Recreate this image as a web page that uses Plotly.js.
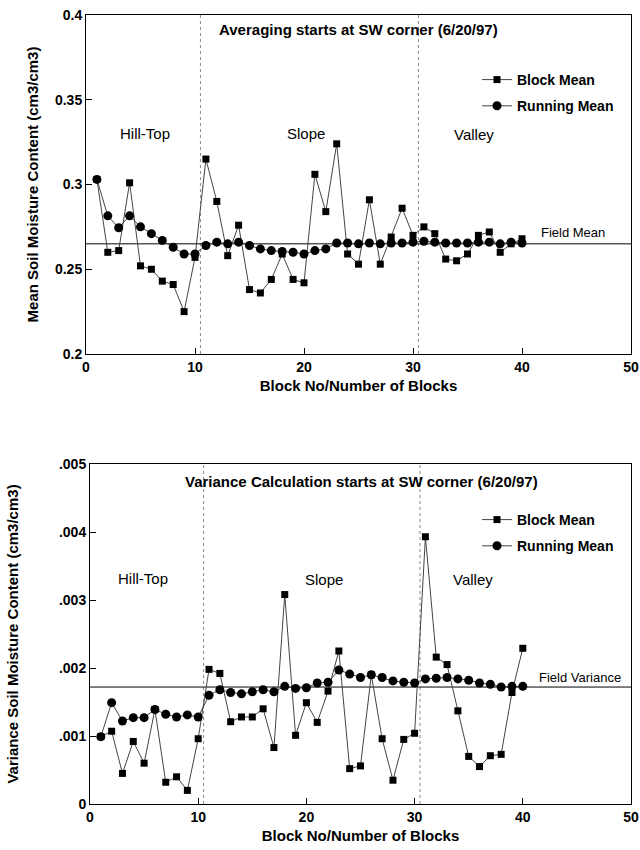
<!DOCTYPE html>
<html><head><meta charset="utf-8">
<script src="https://cdn.plot.ly/plotly-3.0.1.min.js"></script>
<style>html,body{margin:0;padding:0;background:#fff}</style>
</head><body><div id="chart" style="width:640px;height:850px"></div>
<script>
const blocks = [1,2,3,4,5,6,7,8,9,10,11,12,13,14,15,16,17,18,19,20,21,22,23,24,25,26,27,28,29,30,31,32,33,34,35,36,37,38,39,40];
const blockMean = [0.303,0.260,0.261,0.301,0.252,0.250,0.243,0.241,0.225,0.257,
                   0.315,0.290,0.258,0.276,0.238,0.236,0.244,0.259,0.244,0.242,
                   0.306,0.284,0.324,0.259,0.253,0.291,0.253,0.269,0.286,0.270,
                   0.275,0.271,0.256,0.255,0.259,0.270,0.272,0.260,0.265,0.268];
const runningMean = [0.303,0.2815,0.2745,0.2815,0.275,0.271,0.267,0.263,0.259,0.259,
                     0.264,0.266,0.265,0.266,0.264,0.262,0.261,0.2605,0.260,0.259,
                     0.261,0.262,0.2655,0.2655,0.265,0.2655,0.265,0.2655,0.2655,0.266,
                     0.2665,0.266,0.2655,0.2655,0.2655,0.266,0.266,0.265,0.266,0.2655];
const fieldMean = 0.265;
const blockVar = [0.00099,0.00107,0.00045,0.00092,0.00060,0.00139,0.00032,0.00040,0.00020,0.00096,
                  0.00198,0.00192,0.00121,0.00128,0.00128,0.00140,0.00083,0.00308,0.00101,0.00149,
                  0.00120,0.00166,0.00225,0.00052,0.00056,0.00190,0.00096,0.00035,0.00095,0.00104,
                  0.00393,0.00216,0.00205,0.00137,0.00070,0.00055,0.00071,0.00073,0.00164,0.00229];
const runningVar = [0.00099,0.00149,0.00122,0.00127,0.00127,0.00139,0.00132,0.00128,0.00131,0.00128,
                    0.00160,0.00168,0.00164,0.00162,0.00165,0.00168,0.00165,0.00173,0.00170,0.00171,
                    0.00178,0.00179,0.00197,0.00191,0.00186,0.00190,0.00186,0.00181,0.00179,0.00178,
                    0.00184,0.00185,0.00186,0.00184,0.00182,0.00178,0.00176,0.00172,0.00173,0.00173];
const fieldVar = 0.00172;
const meanTickVals = [0.2,0.25,0.3,0.35,0.4];
const varTickVals = [0,0.001,0.002,0.003,0.004,0.005];
const varTickText = ['0','.001','.002','.003','.004','.005'];
const xTickVals = [0,10,20,30,40,50];
const zoneBounds = [10.5, 30.5];
const zoneNames = ['Hill-Top','Slope','Valley'];
const seriesNames = ['Block Mean','Running Mean'];

const FONT = 'Liberation Sans, Arial, Helvetica, sans-serif';
const W = 640, H = 850;
const px = v => v / W;
const py = v => 1 - v / H;
const bold = (s) => ({family: FONT, size: s, color: '#000', weight: 'bold'});
const reg = (s) => ({family: FONT, size: s, color: '#000'});

const lineStyle = {color: '#444', width: 1};
function mk(x, y, xa, ya, name, sym, size, leg, grp) {
  return {x: x, y: y, xaxis: xa, yaxis: ya, name: name, legend: leg, legendgroup: grp,
    type: 'scatter', mode: 'lines+markers', line: lineStyle,
    marker: {symbol: sym, size: size, color: '#000'}};
}
const data = [
  mk(blocks, blockMean, 'x', 'y', seriesNames[0], 'square', 7, 'legend', 'a'),
  mk(blocks, runningMean, 'x', 'y', seriesNames[1], 'circle', 9, 'legend', 'b'),
  mk(blocks, blockVar, 'x2', 'y2', seriesNames[0], 'square', 7, 'legend2', 'c'),
  mk(blocks, runningVar, 'x2', 'y2', seriesNames[1], 'circle', 9, 'legend2', 'd')
];

function xax(dom, anchor) {
  return {domain: dom, anchor: anchor, range: [0, 50], tickvals: xTickVals,
    ticks: 'inside', ticklen: 6, tickcolor: '#000', showline: true, mirror: true,
    linecolor: '#000', linewidth: 1, showgrid: false, zeroline: false,
    tickfont: bold(14),
    title: {text: 'Block No/Number of Blocks', font: bold(15), standoff: 6}};
}
function yax(dom, anchor, range, title, standoff) {
  return {domain: dom, anchor: anchor, range: range,
    ticks: 'inside', ticklen: 6, tickcolor: '#000', showline: true, mirror: true,
    linecolor: '#000', linewidth: 1, showgrid: false, zeroline: false,
    tickfont: bold(14),
    title: {text: title, font: bold(15), standoff: standoff}};
}

const yA = yax([py(354), py(15)], 'x', [0.2, 0.4], 'Mean Soil Moisture Content (cm3/cm3)', 12);
yA.tickvals = meanTickVals;
const yB = yax([py(804), py(464)], 'x2', [0, 0.005], 'Variance Soil Moisture Content (cm3/cm3)', 36);
yB.tickvals = varTickVals; yB.ticktext = varTickText;

const shapes = [];
[['x','y'],['x2','y2']].forEach(([xr, yr]) => {
  zoneBounds.forEach(b => shapes.push({type: 'line', layer: 'below', xref: xr, yref: yr + ' domain',
    x0: b, x1: b, y0: 0, y1: 1, line: {color: '#888', width: 1, dash: 'dot'}}));
});
shapes.push({type: 'line', layer: 'below', xref: 'x domain', yref: 'y', x0: 0, x1: 1,
  y0: fieldMean, y1: fieldMean, line: {color: '#000', width: 1}});
shapes.push({type: 'line', layer: 'below', xref: 'x2 domain', yref: 'y2', x0: 0, x1: 1,
  y0: fieldVar, y1: fieldVar, line: {color: '#000', width: 1}});

function ann(text, x, y, font, xanchor) {
  return {text: text, x: px(x), y: py(y), xref: 'paper', yref: 'paper', showarrow: false,
    xanchor: xanchor || 'center', yanchor: 'middle', font: font};
}
const annotations = [
  ann('Averaging starts at SW corner (6/20/97)', 358, 29, bold(15)),
  ann(zoneNames[0], 145, 133, reg(15)),
  ann(zoneNames[1], 306, 133, reg(15)),
  ann(zoneNames[2], 474, 134, reg(15)),
  ann('Field Mean', 539, 232, reg(13), 'left'),
  ann('Variance Calculation starts at SW corner (6/20/97)', 361, 481, bold(15)),
  ann(zoneNames[0], 143, 578, reg(15)),
  ann(zoneNames[1], 324, 579, reg(15)),
  ann(zoneNames[2], 473, 579, reg(15)),
  ann('Field Variance', 537, 677, reg(13), 'left')
];

const legBase = {xanchor: 'left', yanchor: 'top', bgcolor: 'rgba(0,0,0,0)', borderwidth: 0,
  font: bold(14), traceorder: 'grouped', tracegroupgap: 5};
const layout = {
  width: W, height: H, margin: {l: 0, r: 0, t: 0, b: 0},
  paper_bgcolor: '#fff', plot_bgcolor: '#fff', font: reg(13),
  xaxis: xax([px(86), px(631)], 'y'), yaxis: yA,
  xaxis2: xax([px(90), px(631)], 'y2'), yaxis2: yB,
  showlegend: true,
  legend: Object.assign({x: px(477), y: py(64)}, legBase),
  legend2: Object.assign({x: px(477), y: py(504)}, legBase),
  shapes: shapes, annotations: annotations
};
Plotly.newPlot('chart', data, layout, {displayModeBar: false, staticPlot: true});
</script></body></html>
